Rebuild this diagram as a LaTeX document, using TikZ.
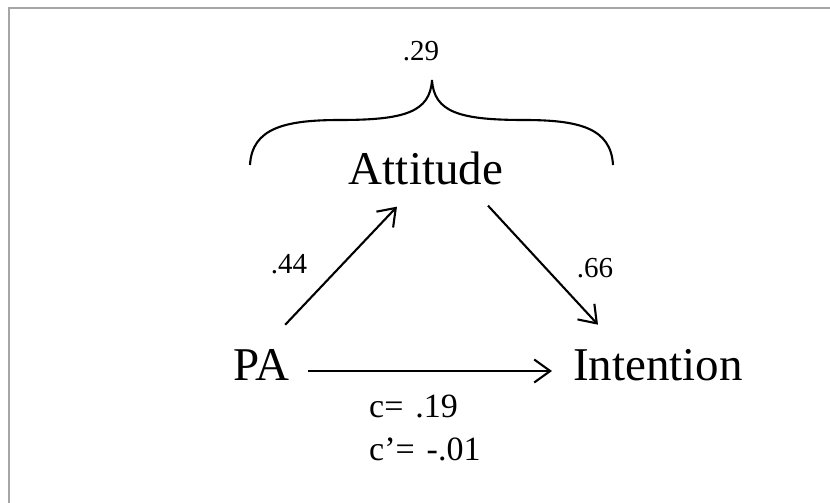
\documentclass[tikz,border=0pt]{standalone}
\usepackage{fontspec}
\setmainfont{Liberation Serif}
\usetikzlibrary{arrows.meta}
\begin{document}
\begin{tikzpicture}[x=1pt,y=-1pt,
  lab/.style={inner sep=0pt, font=\fontsize{47}{50}\selectfont},
  num/.style={inner sep=0pt, font=\fontsize{29}{32}\selectfont},
  cnum/.style={inner sep=0pt, font=\fontsize{34}{38}\selectfont},
  arr/.style={line width=2.1pt, -{Straight Barb[length=16pt,width=23pt,line width=2.1pt]}},
  frame/.style={draw=black!35, line width=2pt}]
\useasboundingbox (0,0) rectangle (830,503);
\fill[white] (0,0) rectangle (830,503);
% frame
\draw[frame] (9,503) -- (9,8) -- (830,8);
% nodes
\node[lab, anchor=base] (att) at (426,184) {Attitude};
\node[lab, anchor=base west] (pa) at (233,380) {PA};
\node[lab, anchor=base west] (int) at (573,380) {Intention};
\node[num, anchor=base] (n29) at (421,61) {.29};
\node[num, anchor=base] (n44) at (289,273) {.44};
\node[num, anchor=base] (n66) at (595,277) {.66};
\node[cnum, anchor=base west] (c1) at (369,417) {c=\hspace{0.35em}.19};
\node[cnum, anchor=base west] (c2) at (369,460) {c’=\hspace{0.35em}-.01};
% brace
\draw[line width=2.1pt] (250,165) .. controls (252,128) and (285,120) .. (340,120)
  .. controls (405,120) and (430,112) .. (432,80)
  .. controls (434,112) and (459,120) .. (524,120)
  .. controls (579,120) and (611,128) .. (613,165);
% connectors
\draw[arr] ([shift={(-4,-24)}]pa.north east) -- ([shift={(-29,22)}]att.south);
\draw[arr] ([shift={(62,21)}]att.south) -- ([shift={(25,-24)}]int.north west);
\draw[arr] ([shift={(19,-9)}]pa.base east) -- ([shift={(-21,-9)}]int.base west);
\end{tikzpicture}
\end{document}
